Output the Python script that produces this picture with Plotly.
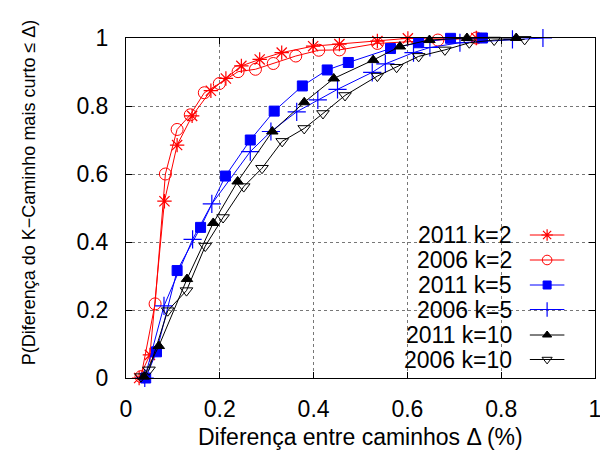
import plotly.graph_objects as go

# ---- data ----
x_2011_k2 = [0.028, 0.051, 0.082, 0.109, 0.141, 0.181, 0.213, 0.246, 0.285, 0.332, 0.399, 0.455, 0.536, 0.601, 0.747]
y_2011_k2 = [0.0, 0.068, 0.52, 0.685, 0.771, 0.845, 0.881, 0.918, 0.937, 0.957, 0.976, 0.982, 0.991, 0.999, 1.0]

x_2006_k2 = [0.032, 0.062, 0.084, 0.109, 0.137, 0.167, 0.199, 0.239, 0.276, 0.314, 0.362, 0.411, 0.455, 0.536, 0.665, 0.747]
y_2006_k2 = [0.004, 0.218, 0.60, 0.731, 0.774, 0.839, 0.866, 0.901, 0.908, 0.925, 0.947, 0.964, 0.965, 0.984, 0.994, 1.0]

x_2011_k5 = [0.042, 0.065, 0.109, 0.159, 0.212, 0.265, 0.316, 0.376, 0.429, 0.474, 0.564, 0.624, 0.692, 0.760]
y_2011_k5 = [0.0, 0.077, 0.316, 0.443, 0.594, 0.700, 0.785, 0.859, 0.906, 0.928, 0.969, 0.986, 0.999, 1.0]

x_2006_k5 = [0.040, 0.081, 0.142, 0.183, 0.265, 0.309, 0.364, 0.409, 0.451, 0.525, 0.553, 0.613, 0.648, 0.712, 0.824, 0.889]
y_2006_k5 = [0.0, 0.212, 0.408, 0.512, 0.666, 0.725, 0.783, 0.818, 0.849, 0.899, 0.924, 0.957, 0.972, 0.986, 0.996, 1.0]

x_2011_k10 = [0.038, 0.070, 0.130, 0.186, 0.238, 0.312, 0.380, 0.443, 0.527, 0.584, 0.647, 0.727, 0.832]
y_2011_k10 = [0.004, 0.094, 0.291, 0.456, 0.578, 0.725, 0.811, 0.881, 0.935, 0.975, 0.994, 1.0, 1.0]

x_2006_k10 = [0.032, 0.049, 0.089, 0.129, 0.169, 0.207, 0.251, 0.290, 0.333, 0.380, 0.420, 0.467, 0.536, 0.577, 0.624, 0.680, 0.732, 0.785, 0.850]
y_2006_k10 = [0.004, 0.024, 0.198, 0.257, 0.388, 0.472, 0.563, 0.617, 0.696, 0.734, 0.778, 0.831, 0.888, 0.914, 0.946, 0.965, 0.986, 0.994, 0.996]

names = ["2011 k=2", "2006 k=2", "2011 k=5", "2006 k=5", "2011 k=10", "2006 k=10"]
tick_vals = [0, 0.2, 0.4, 0.6, 0.8, 1]
tick_text = ["0", "0.2", "0.4", "0.6", "0.8", "1"]

# ---- styles ----
FONT = "Liberation Sans"
styles = [
    dict(color="#ff0000", symbol="asterisk-open", size=12, lw=1.2),
    dict(color="#ff0000", symbol="circle-open", size=12, lw=1.0),
    dict(color="#0000ff", symbol="square", size=10, lw=1.0),
    dict(color="#0000ff", symbol="cross-thin-open", size=13, lw=1.2),
    dict(color="#000000", symbol="triangle-up", size=10, lw=1.0),
    dict(color="#000000", symbol="triangle-down-open", size=11, lw=1.0),
]
series = [(x_2011_k2, y_2011_k2), (x_2006_k2, y_2006_k2), (x_2011_k5, y_2011_k5),
          (x_2006_k5, y_2006_k5), (x_2011_k10, y_2011_k10), (x_2006_k10, y_2006_k10)]

fig = go.Figure()
for (xs, ys), nm, st in zip(series, names, styles):
    fig.add_trace(go.Scatter(
        x=xs, y=ys, name=nm, mode="lines+markers",
        line=dict(color=st["color"], width=1),
        marker=dict(symbol=st["symbol"], size=st["size"], color=st["color"],
                    line=dict(color=st["color"], width=st["lw"])),
        showlegend=False, cliponaxis=False))

# ---- layout geometry (screen pixels of the reference) ----
OFF = 8  # default page body margin
L, T, W, H = 126, 38, 475, 340
def px2paper_x(p): return (p - L) / W
def px2paper_y(p): return (T + H - p) / H

# ---- manual gnuplot-style legend (text right, sample on the right) ----
leg_rows_px = [235, 260, 285, 309.5, 335, 359.5]
fig.update_layout(xaxis2=dict(domain=[0, 1], range=[L, L + W], overlaying="x", visible=False, fixedrange=True),
                  yaxis2=dict(domain=[0, 1], range=[T + H, T], overlaying="y", visible=False, fixedrange=True))
annotations = []
shapes = []
shapes.append(dict(type="rect", xref="paper", yref="paper", x0=px2paper_x(393), x1=px2paper_x(584),
                   y0=0.0, y1=px2paper_y(221), fillcolor="white", line=dict(width=0), layer="between"))
for nm, st, ry in zip(names, styles, leg_rows_px):
    annotations.append(dict(text=nm, x=px2paper_x(519), y=px2paper_y(ry), xref="paper", yref="paper",
                            xanchor="right", yanchor="middle", showarrow=False,
                            font=dict(family=FONT, size=23, color="black")))
    shapes.append(dict(type="line", xref="paper", yref="paper", x0=px2paper_x(535), x1=px2paper_x(570),
                       y0=px2paper_y(ry), y1=px2paper_y(ry), line=dict(color=st["color"], width=1)))
    fig.add_trace(go.Scatter(x=[552.5], y=[ry], xaxis="x2", yaxis="y2", mode="markers",
                             marker=dict(symbol=st["symbol"], size=st["size"] * 0.8, color=st["color"],
                                         line=dict(color=st["color"], width=st["lw"])),
                             showlegend=False, hoverinfo="skip"))

annotations.append(dict(text="Diferença entre caminhos Δ (%)", x=0.5, y=px2paper_y(437), xref="paper", yref="paper",
                        xanchor="center", yanchor="middle", showarrow=False,
                        font=dict(family=FONT, size=23, color="black")))
annotations.append(dict(text="P(Diferença do K−Caminho mais curto ≤ Δ)", x=px2paper_x(28), y=px2paper_y(192),
                        xref="paper", yref="paper", textangle=-90,
                        xanchor="center", yanchor="middle", showarrow=False,
                        font=dict(family=FONT, size=18, color="black")))

axis_common = dict(range=[0, 1], tickvals=tick_vals, ticktext=tick_text, ticks="inside", ticklen=6,
                   tickcolor="black", showline=True, linecolor="black", linewidth=1, mirror="ticks",
                   showgrid=True, gridcolor="#777777", griddash="dot", gridwidth=1, zeroline=False,
                   tickfont=dict(family=FONT, size=23, color="black"), fixedrange=True)
fig.update_layout(
    width=608 - OFF, height=452 - OFF,
    margin=dict(l=L - OFF, r=608 - L - W, t=T - OFF, b=452 - T - H),
    paper_bgcolor="white", plot_bgcolor="white",
    xaxis=dict(**axis_common, ticklabelstandoff=10),
    yaxis=dict(**axis_common, ticklabelstandoff=12),
    annotations=annotations, shapes=shapes, showlegend=False,
)
fig.write_html("out.html")
